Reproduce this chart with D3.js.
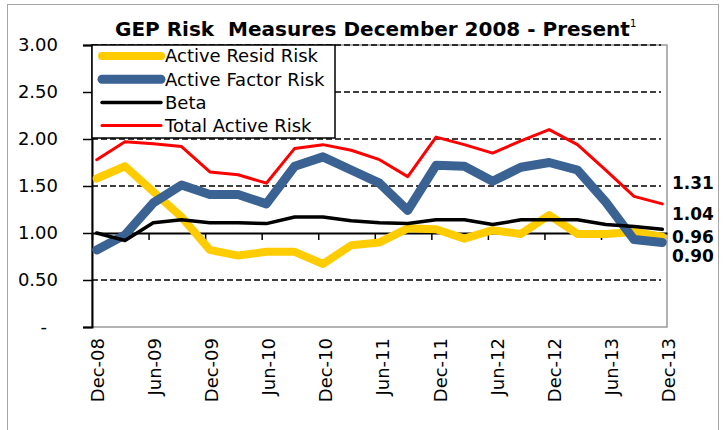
<!DOCTYPE html>
<html>
<head>
<meta charset="utf-8">
<script src="https://cdn.jsdelivr.net/npm/d3@7"></script>
<style>
	body { margin: 0; background: #fff; }
	text { font-family: 'DejaVu Sans', sans-serif; }
</style>
</head>
<body>
<div id="chart"></div>
<script>
// quarterly observations, Dec-08 .. Dec-13
var quarters = ['Dec-08', 'Mar-09', 'Jun-09', 'Sep-09', 'Dec-09', 'Mar-10', 'Jun-10',
	'Sep-10', 'Dec-10', 'Mar-11', 'Jun-11', 'Sep-11', 'Dec-11', 'Mar-12', 'Jun-12',
	'Sep-12', 'Dec-12', 'Mar-13', 'Jun-13', 'Sep-13', 'Dec-13'];

var activeResid = [1.58, 1.71, 1.44, 1.17, 0.82, 0.76, 0.80, 0.80, 0.67, 0.87, 0.90,
	1.05, 1.04, 0.94, 1.03, 0.99, 1.19, 0.99, 0.99, 1.01, 0.96];
var activeFactor = [0.82, 0.98, 1.32, 1.51, 1.41, 1.41, 1.31, 1.71, 1.81, 1.67, 1.53,
	1.24, 1.72, 1.71, 1.55, 1.70, 1.75, 1.67, 1.33, 0.93, 0.90];
var beta = [1.00, 0.92, 1.11, 1.14, 1.11, 1.11, 1.10, 1.17, 1.17, 1.13, 1.11,
	1.10, 1.14, 1.14, 1.09, 1.14, 1.14, 1.14, 1.09, 1.07, 1.04];
var totalActive = [1.78, 1.97, 1.95, 1.92, 1.65, 1.62, 1.53, 1.90, 1.94, 1.88, 1.78,
	1.60, 2.02, 1.94, 1.85, 1.98, 2.10, 1.94, 1.67, 1.39, 1.31];

var tickLabels = ['Dec-08', 'Jun-09', 'Dec-09', 'Jun-10', 'Dec-10', 'Jun-11',
	'Dec-11', 'Jun-12', 'Dec-12', 'Jun-13', 'Dec-13'];
var yTicks = [0, 0.5, 1, 1.5, 2, 2.5, 3];

var series = [
	{name: 'Active Resid Risk', values: activeResid, color: '#FFCC00', width: 8, labelDy: 0},
	{name: 'Active Factor Risk', values: activeFactor, color: '#3A6292', width: 9, labelDy: 13},
	{name: 'Beta', values: beta, color: '#000000', width: 3.5, labelDy: -15},
	{name: 'Total Active Risk', values: totalActive, color: '#FF0000', width: 3, labelDy: -21}
];

var W = 723, H = 430;
var plot = {left: 92, right: 667, top: 45, bottom: 327};

var svg = d3.select('#chart').append('svg')
	.attr('width', W)
	.attr('height', H);

// outer chart frame
svg.append('rect')
	.attr('x', 7.5).attr('y', 4.5)
	.attr('width', 711).attr('height', 440)
	.style('fill', 'none')
	.style('stroke', '#a6a6a6');

// months since Dec-08 on x, point sits in middle of its month
var x = d3.scaleLinear().domain([0, 61]).range([plot.left, plot.right]);
var y = d3.scaleLinear().domain([0, 3]).range([plot.bottom, plot.top]);
var px = function(i) { return x(i * 3 + 0.5); };

// plot area border
svg.append('rect')
	.attr('x', plot.left).attr('y', plot.top)
	.attr('width', plot.right - plot.left)
	.attr('height', plot.bottom - plot.top)
	.style('fill', 'none')
	.style('stroke', '#999')
	.style('stroke-width', 1.5);

// dashed gridlines
svg.append('g')
	.selectAll('line')
	.data(yTicks.filter(function(d) { return d !== 0 && d !== 1; }))
	.enter()
	.append('line')
	.attr('x1', plot.left).attr('x2', plot.right - 6)
	.attr('y1', function(d) { return y(d); })
	.attr('y2', function(d) { return y(d); })
	.style('stroke', '#000')
	.style('stroke-width', 1.6)
	.style('stroke-dasharray', '6,3');

// y axis
var yAxis = svg.append('g')
	.attr('transform', 'translate(' + plot.left + ',0)')
	.call(d3.axisLeft(y)
		.tickValues(yTicks)
		.tickSize(9)
		.tickPadding(0)
		.tickFormat(''));
yAxis.select('.domain').style('stroke-width', 2);
yAxis.selectAll('.tick line').style('stroke-width', 1.5);

svg.append('g')
	.selectAll('text')
	.data(yTicks)
	.enter()
	.append('text')
	.attr('x', function(d) { return d === 0 ? 47 : 58; })
	.attr('y', function(d) { return y(d); })
	.attr('dy', '0.36em')
	.style('text-anchor', 'end')
	.style('font-size', '18px')
	.text(function(d) { return d === 0 ? '-' : d.toFixed(2); });

// x axis crosses at 1.00, ticks hang below it
var xAxis = svg.append('g')
	.attr('transform', 'translate(0,' + y(1) + ')')
	.call(d3.axisBottom(x)
		.tickValues(d3.range(0, 61, 6))
		.tickSize(7)
		.tickSizeOuter(0)
		.tickFormat(''));
xAxis.select('.domain').style('stroke-width', 2);
xAxis.selectAll('.tick line').style('stroke-width', 1.5);

svg.append('g')
	.selectAll('text')
	.data(tickLabels)
	.enter()
	.append('text')
	.attr('transform', function(d, i) {
		return 'translate(' + (px(i * 2) + 1 + i * 0.5) + ',338) rotate(-90)';
	})
	.attr('dy', '0.36em')
	.style('text-anchor', 'end')
	.style('font-size', '18px')
	.text(function(d) { return d; });

// series lines
var line = d3.line()
	.x(function(d, i) { return px(i); })
	.y(function(d) { return y(d); });

series.forEach(function(s) {
	svg.append('path')
		.datum(s.values)
		.attr('d', line)
		.style('fill', 'none')
		.style('stroke', s.color)
		.style('stroke-width', s.width)
		.style('stroke-linejoin', 'round')
		.style('stroke-linecap', 'round');
});

// end-of-series value labels
svg.append('g')
	.selectAll('text')
	.data(series)
	.enter()
	.append('text')
	.attr('x', 672)
	.attr('y', function(d) { return y(d.values[d.values.length - 1]) + d.labelDy; })
	.attr('dy', '0.36em')
	.style('font-size', '17px')
	.style('font-weight', 'bold')
	.text(function(d) { return d.values[d.values.length - 1].toFixed(2); });

// legend
var legend = svg.append('g');
legend.append('rect')
	.attr('x', 92).attr('y', 45)
	.attr('width', 243).attr('height', 93)
	.style('fill', '#fff')
	.style('stroke', '#000')
	.style('stroke-width', 1.5);

series.forEach(function(s, i) {
	var ly = 56 + i * 23.2;
	legend.append('line')
		.attr('x1', 102).attr('x2', 161)
		.attr('y1', ly).attr('y2', ly)
		.style('stroke', s.color)
		.style('stroke-width', s.width)
		.style('stroke-linecap', 'round');
	legend.append('text')
		.attr('x', 165)
		.attr('y', ly)
		.attr('dy', '0.36em')
		.style('font-size', '18px')
		.text(s.name);
});

// title
var title = svg.append('text')
	.attr('x', 115)
	.attr('y', 36)
	.style('font-size', '20px')
	.style('font-weight', 'bold')
	.style('white-space', 'pre')
	.text('GEP Risk  Measures December 2008 - Present');
title.append('tspan')
	.attr('dy', -9)
	.style('font-size', '10px')
	.style('font-weight', 'normal')
	.text('1');
</script>
</body>
</html>
